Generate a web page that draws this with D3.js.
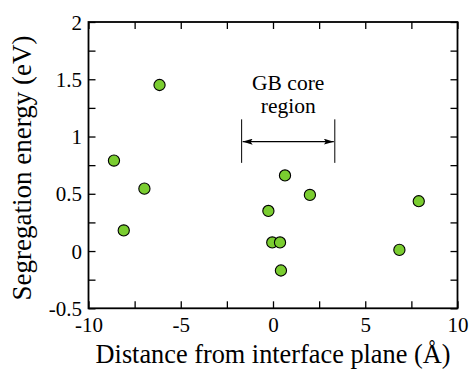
<!DOCTYPE html>
<html>
<head>
<meta charset="utf-8">
<script src="https://cdn.jsdelivr.net/npm/d3@7"></script>
<style>
  body { margin: 0; background: #fff; }
</style>
</head>
<body>
<svg id="chart"></svg>
<script>
const distances = [-8.62, -8.09, -6.97, -6.15, -0.25, -0.04, 0.38, 0.43, 0.65, 2.0, 6.85, 7.9];
const energies = [0.79, 0.18, 0.545, 1.45, 0.35, 0.075, 0.075, -0.17, 0.66, 0.49, 0.01, 0.435];
const xTicks = [-10, -5, 0, 5, 10];
const yTicks = [-0.5, 0, 0.5, 1, 1.5, 2];
const xMinorTicks = d3.range(-10, 10.01, 2.5);
const yMinorTicks = d3.range(-0.5, 2.01, 0.25);
const coreBounds = [-1.7, 3.35];
const coreSpan = [0.77, 1.15];
const coreArrowY = 0.955;
const coreLabels = [{ text: 'GB core', y: 1.41 }, { text: 'region', y: 1.205 }];

const WIDTH = 470;
const HEIGHT = 376;
const MARGIN = { LEFT: 88.5, RIGHT: 12.5, TOP: 22, BOTTOM: 67.7 };
const TICK = 7;
const FONT = '"Liberation Serif", "Times New Roman", Times, "DejaVu Serif", serif';

const svg = d3.select('#chart')
  .attr('width', WIDTH)
  .attr('height', HEIGHT)
  .style('font-family', FONT);
const g = svg.append('g').attr('transform', `translate(${MARGIN.LEFT}, ${MARGIN.TOP})`);
const w = WIDTH - MARGIN.LEFT - MARGIN.RIGHT;
const h = HEIGHT - MARGIN.TOP - MARGIN.BOTTOM;

const x = d3.scaleLinear([-10, 10], [0, w]);
const y = d3.scaleLinear([-0.5, 2], [h, 0]);

const fmt = (d) => (d === 0 ? '0' : String(d));

// inward ticks on all four sides, major and minor the same length
const tickAxis = (axis, scale, ticks) => axis(scale).tickValues(ticks).tickSize(-TICK).tickFormat('');
const axes = [
  { axis: tickAxis(d3.axisBottom, x, xMinorTicks), t: `translate(0, ${h})` },
  { axis: tickAxis(d3.axisTop, x, xMinorTicks), t: 'translate(0, 0)' },
  { axis: tickAxis(d3.axisLeft, y, yMinorTicks), t: 'translate(0, 0)' },
  { axis: tickAxis(d3.axisRight, y, yMinorTicks), t: `translate(${w}, 0)` },
];
axes.forEach(({ axis, t }) => {
  const a = g.append('g').attr('transform', t).call(axis);
  a.select('.domain').remove();
  a.selectAll('.tick line').attr('stroke', '#000').attr('stroke-width', 1.3);
});

g.append('rect')
  .attr('width', w)
  .attr('height', h)
  .attr('fill', 'none')
  .attr('stroke', '#000')
  .attr('stroke-width', 1.8);

// tick labels
const xLab = g.append('g').attr('transform', `translate(0, ${h})`)
  .call(d3.axisBottom(x).tickValues(xTicks).tickSize(0).tickPadding(0).tickFormat(fmt))
  .attr('font-family', null)
  .attr('font-size', 21);
xLab.select('.domain').remove();
xLab.selectAll('text').attr('dy', null).attr('y', 24).attr('fill', '#000');

const yLab = g.append('g')
  .call(d3.axisLeft(y).tickValues(yTicks).tickSize(0).tickPadding(0).tickFormat(fmt))
  .attr('font-family', null)
  .attr('font-size', 21);
yLab.select('.domain').remove();
yLab.selectAll('text').attr('x', -6.5).attr('dy', '0.34em').attr('fill', '#000');

// axis titles
svg.append('text')
  .attr('x', MARGIN.LEFT + w / 2)
  .attr('y', 363)
  .attr('text-anchor', 'middle')
  .attr('font-size', 26.3)
  .text('Distance from interface plane (Å)');

svg.append('text')
  .attr('transform', `translate(31, 168) rotate(-90)`)
  .attr('text-anchor', 'middle')
  .attr('font-size', 27)
  .text('Segregation energy (eV)');

// GB core annotation
svg.append('defs').append('marker')
  .attr('id', 'arrow')
  .attr('viewBox', '0 0 10 6')
  .attr('refX', 10)
  .attr('refY', 3)
  .attr('markerWidth', 10)
  .attr('markerHeight', 6)
  .attr('markerUnits', 'userSpaceOnUse')
  .attr('orient', 'auto-start-reverse')
  .append('path')
  .attr('d', 'M0,0 L10,3 L0,6 L2,3 Z')
  .attr('fill', '#000');

g.selectAll('.bound')
  .data(coreBounds)
  .join('line')
  .attr('class', 'bound')
  .attr('x1', (d) => x(d))
  .attr('x2', (d) => x(d))
  .attr('y1', y(coreSpan[0]))
  .attr('y2', y(coreSpan[1]))
  .attr('stroke', '#000')
  .attr('stroke-width', 1);

g.append('line')
  .attr('x1', x(coreBounds[0]) + 1)
  .attr('x2', x(coreBounds[1]) - 1)
  .attr('y1', y(coreArrowY))
  .attr('y2', y(coreArrowY))
  .attr('stroke', '#000')
  .attr('stroke-width', 1.3)
  .attr('marker-start', 'url(#arrow)')
  .attr('marker-end', 'url(#arrow)');

g.selectAll('.core-label')
  .data(coreLabels)
  .join('text')
  .attr('class', 'core-label')
  .attr('x', x(d3.mean(coreBounds)))
  .attr('y', (d) => y(d.y))
  .attr('text-anchor', 'middle')
  .attr('font-size', 21.5)
  .text((d) => d.text);

// points
g.selectAll('circle')
  .data(d3.zip(distances, energies))
  .join('circle')
  .attr('cx', (d) => x(d[0]))
  .attr('cy', (d) => y(d[1]))
  .attr('r', 5.6)
  .attr('fill', '#7acd30')
  .attr('stroke', '#000')
  .attr('stroke-width', 1.1);
</script>
</body>
</html>
